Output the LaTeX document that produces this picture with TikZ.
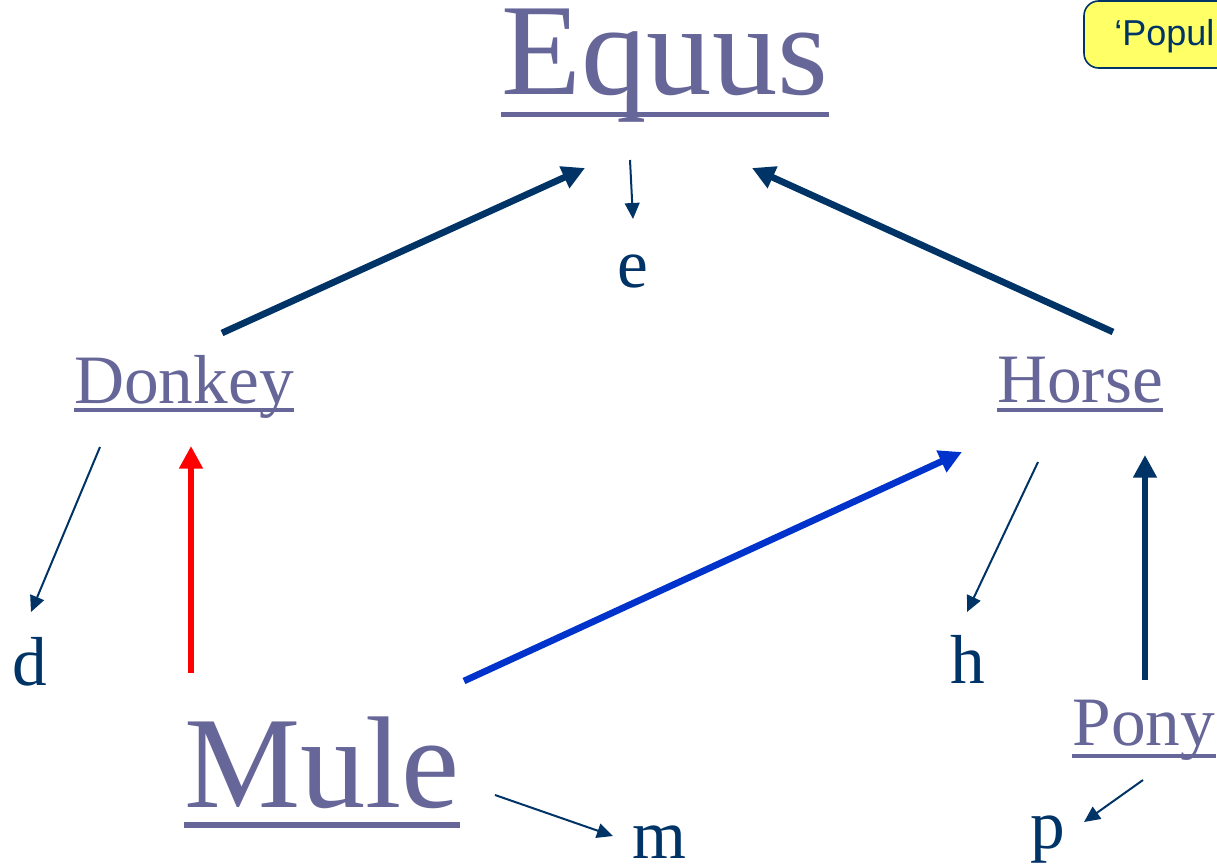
\documentclass[tikz,border=0pt]{standalone}
\usepackage{fontspec}
\setmainfont{Liberation Serif}
\newfontfamily\notefont{Liberation Sans}
\usetikzlibrary{arrows.meta,positioning,calc}
\definecolor{navy}{RGB}{0,51,102}
\definecolor{taxonText}{RGB}{102,102,153}
\definecolor{crossBlue}{RGB}{0,51,204}
\definecolor{noteYellow}{RGB}{255,255,102}

\tikzset{
  taxon/.style={text=taxonText,inner sep=0pt,anchor=base},
  bigtaxon/.style={taxon,font=\fontsize{98}{110}\selectfont},
  midtaxon/.style={taxon,font=\fontsize{52}{60}\selectfont},
  letter/.style={text=navy,inner sep=0pt,anchor=base,font=\fontsize{52}{60}\selectfont},
  uline/.style={draw=taxonText},
  bigarrow/.style={line width=5pt,-{Triangle[length=17pt,width=17pt]}},
  smallarrow/.style={navy,line width=1.5pt,-{Triangle[length=12pt,width=11pt]}}
}

\begin{document}
\begin{tikzpicture}[x=0.75pt,y=-0.75pt]
  \useasboundingbox (0,0) rectangle (1217,866);
  \clip (0,0) rectangle (1217,866);
  % note box, cut by the right edge
  \draw[navy,fill=noteYellow,line width=1.2pt,rounded corners=11pt] (1084,1) rectangle (1300,68);
  \node[text=navy,inner sep=0pt,anchor=base west,font=\notefont\fontsize{27}{30}\selectfont] (note) at (1114,46) {‘Popul};
  % taxa
  \node[bigtaxon] (equus) at (665,95) {Equus};
  \node[bigtaxon] (mule) at (322,807) {Mule};
  \node[midtaxon] (donkey) at (184,403) {Donkey};
  \node[midtaxon] (horse) at (1080,402) {Horse};
  \node[midtaxon] (pony) at (1144,745) {Pony};
  % underlines
  \draw[uline,line width=3.75pt] ($(equus.base west)+(0,20)$) -- ($(equus.base east)+(0,20)$);
  \draw[uline,line width=4pt] ($(mule.base west)+(0,18)$) -- ($(mule.base east)+(0,18)$);
  \draw[uline,line width=2.5pt] ($(donkey.base west)+(0,7)$) -- ($(donkey.base east)+(0,7)$);
  \draw[uline,line width=2.5pt] ($(horse.base west)+(0,8)$) -- ($(horse.base east)+(0,8)$);
  \draw[uline,line width=2.5pt] ($(pony.base west)+(0,11)$) -- ($(pony.base east)+(0,11)$);
  % letters
  \node[letter] (e) at (633,288) {e};
  \node[letter] (d) at (30,685) {d};
  \node[letter] (h) at (968,683) {h};
  \node[letter] (m) at (659,858) {m};
  \node[letter] (p) at (1048,848) {p};
  % arrow ends
  \coordinate (dk-out) at (222,333);
  \coordinate (eq-left) at (585,168);
  \coordinate (hs-out) at (1113,332);
  \coordinate (eq-right) at (752,168);
  \coordinate (eq-down) at (630,160);
  \coordinate (e-in) at (633,219);
  \coordinate (dk-down) at (100,447);
  \coordinate (d-in) at (31,612);
  \coordinate (ml-up) at (191,673);
  \coordinate (dk-in) at (191,446);
  \coordinate (ml-right) at (464,681);
  \coordinate (hs-in) at (962,452);
  \coordinate (hs-down) at (1038,462);
  \coordinate (h-in) at (967,612);
  \coordinate (pn-up) at (1145,680);
  \coordinate (hs-low) at (1145,455);
  \coordinate (ml-low) at (495,795);
  \coordinate (m-in) at (613,836);
  \coordinate (pn-down) at (1143,780);
  \coordinate (p-in) at (1084,822);
  % connectors
  \draw[bigarrow,navy] (dk-out) -- (eq-left);
  \draw[bigarrow,navy] (hs-out) -- (eq-right);
  \draw[bigarrow,red] (ml-up) -- (dk-in);
  \draw[bigarrow,crossBlue] (ml-right) -- (hs-in);
  \draw[bigarrow,navy] (pn-up) -- (hs-low);
  \draw[smallarrow] (eq-down) -- (e-in);
  \draw[smallarrow] (dk-down) -- (d-in);
  \draw[smallarrow] (hs-down) -- (h-in);
  \draw[smallarrow] (ml-low) -- (m-in);
  \draw[smallarrow] (pn-down) -- (p-in);
\end{tikzpicture}
\end{document}
